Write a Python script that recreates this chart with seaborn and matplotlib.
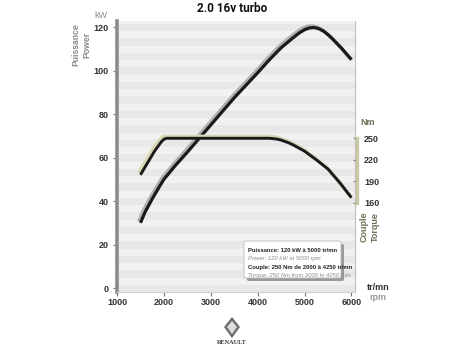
import numpy as np
import pandas as pd
import matplotlib
matplotlib.use("Agg")
import matplotlib.pyplot as plt
import matplotlib.transforms as mtransforms
from matplotlib.patches import Polygon, FancyBboxPatch
import seaborn as sns

# ---- data ----
power_rpm = [1500, 1600, 1750, 1900, 2000, 2250, 2500, 3000, 3500, 4000,
             4250, 4500, 4750, 4900, 5000, 5100, 5200, 5300, 5400, 5500,
             5600, 5800, 6000]
power_kw = [30, 35, 41, 46.5, 50, 56.5, 62.5, 75, 87.5, 99,
            105, 110.5, 115, 117.5, 118.8, 119.6, 119.8, 119.3, 118.2, 116.5,
            114.5, 110, 105]

torque_rpm = [1500, 1600, 1700, 1800, 1900, 1950, 2000, 2050, 3000, 4000,
              4250, 4400, 4500, 4650, 4750, 5000, 5250, 5500, 5750, 6000]
torque_nm = [199, 210, 221, 232, 241, 245.5, 248.5, 250, 250, 250,
             250, 249, 247.5, 244, 241, 232, 220, 207, 188, 167]

kw_ticks = [0, 20, 40, 60, 80, 100, 120]
nm_ticks = [160, 190, 220, 250]
rpm_ticks = [1000, 2000, 3000, 4000, 5000, 6000]

title = "2.0 16v turbo"
info_lines = [
    ("Puissance: 120 kW à 5000 tr/mn", "bold", "normal", "#222222"),
    ("Power: 120 kW at 5000 rpm", "normal", "italic", "#8a8a8a"),
    ("Couple: 250 Nm de 2000 à 4250 tr/mn", "bold", "normal", "#222222"),
    ("Torque: 250 Nm from 2000 to 4250 rpm", "normal", "italic", "#8a8a8a"),
]

dfp = pd.DataFrame({"rpm": power_rpm, "kw": power_kw})
dft = pd.DataFrame({"rpm": torque_rpm, "nm": torque_nm})

sns.set_style("white")
plt.rcParams["font.family"] = ["Liberation Sans", "DejaVu Sans"]

W, H = 465, 352
fig = plt.figure(figsize=(W / 100, H / 100), dpi=100)
fig.patch.set_facecolor("white")

def fx(px):
    return px / W

def fy(py):
    return 1 - py / H

ax = fig.add_axes([fx(117), fy(292), fx(355) - fx(117), fy(21) - fy(292)])
ax.set_xlim(1000, 6075)
ax.set_ylim(-1.8, 122.8)
ax.set_facecolor("#f1f1f1")

# striped background
step = 20 / 3
y = -1.8
i = 0
while y < 123:
    if i % 2 == 0:
        ax.axhspan(y, y + step / 2, color="#e8e8e8", lw=0, zorder=0)
    y += step / 2
    i += 1

ax2 = ax.twinx()
ax2.set_ylim(35.2, 413.9)

line_kw = dict(solid_joinstyle="round", solid_capstyle="butt")

# shadows + lines
off_p = mtransforms.offset_copy(ax.transData, fig=fig, x=-1.6, y=1.6, units="dots")
sns.lineplot(data=dfp, x="rpm", y="kw", ax=ax, color="#b0b0b0", lw=2.6, zorder=3, **line_kw)
ax.lines[-1].set_transform(off_p)
sns.lineplot(data=dfp, x="rpm", y="kw", ax=ax, color="#1a1a1a", lw=2.3, zorder=4, **line_kw)

off_t = mtransforms.offset_copy(ax2.transData, fig=fig, x=-1.6, y=1.8, units="dots")
sns.lineplot(data=dft, x="rpm", y="nm", ax=ax2, color="#d9d6b8", lw=2.8, zorder=3, **line_kw)
ax2.lines[-1].set_transform(off_t)
sns.lineplot(data=dft, x="rpm", y="nm", ax=ax2, color="#1a1a1a", lw=2.1, zorder=4, **line_kw)

# axes styling
for a in (ax, ax2):
    a.set_xlabel("")
    a.set_ylabel("")
    for s in a.spines.values():
        s.set_visible(False)

ax.spines["left"].set_visible(True)
ax.spines["left"].set_color("#8c8c8c")
ax.spines["left"].set_linewidth(2.6)
ax.spines["bottom"].set_visible(True)
ax.spines["bottom"].set_color("#cfcfcf")
ax.spines["bottom"].set_linewidth(0.8)
ax.spines["right"].set_visible(True)
ax.spines["right"].set_color("#bdbdbd")
ax.spines["right"].set_linewidth(0.8)

ax.set_yticks(kw_ticks)
ax.set_yticklabels([str(v) for v in kw_ticks])
ax.set_xticks(rpm_ticks)
ax.set_xticklabels([str(v) for v in rpm_ticks])
ax.tick_params(axis="y", left=True, length=3, width=0.8, color="#777777",
               labelsize=6.5, labelcolor="#333333", pad=3)
ax.tick_params(axis="x", bottom=True, length=3, width=0.8, color="#777777",
               labelsize=6.5, labelcolor="#333333", pad=1.5)
for lab in ax.get_xticklabels() + ax.get_yticklabels():
    lab.set_fontweight("bold")

ax2.spines["right"].set_visible(True)
ax2.spines["right"].set_bounds(160, 250)
ax2.spines["right"].set_position(("outward", 1.5))
ax2.spines["right"].set_color("#c9c8a6")
ax2.spines["right"].set_linewidth(2.4)
ax2.set_yticks(nm_ticks)
ax2.set_yticklabels([str(v) for v in nm_ticks])
ax2.tick_params(axis="y", right=True, direction="in", length=3, width=0.8,
                color="#8c8c70", labelsize=6.5, labelcolor="#333333", pad=5)
for lab in ax2.get_yticklabels():
    lab.set_fontweight("bold")

# texts
fig.text(fx(232), fy(9), title, ha="center", va="center", fontsize=8.5,
         fontweight="bold", family=["Liberation Sans Narrow", "Roboto", "DejaVu Sans"],
         color="#111111")
fig.text(fx(101), fy(15), "kW", ha="center", va="center", fontsize=6.5, color="#8a8a8a")
fig.text(fx(76), fy(45), "Puissance", ha="center", va="center", rotation=90,
         fontsize=6.2, color="#8a8a8a", fontweight="bold")
fig.text(fx(87), fy(45), "Power", ha="center", va="center", rotation=90,
         fontsize=6.2, color="#8a8a8a", fontweight="bold")
fig.text(fx(368), fy(123), "Nm", ha="center", va="center", fontsize=6.5,
         color="#6e6e55", fontweight="bold")
fig.text(fx(364), fy(227), "Couple", ha="center", va="center", rotation=90,
         fontsize=6.5, color="#6e6e55", fontweight="bold")
fig.text(fx(375), fy(227), "Torque", ha="center", va="center", rotation=90,
         fontsize=6.5, color="#6e6e55", fontweight="bold")
fig.text(fx(378), fy(287), "tr/mn", ha="center", va="center", fontsize=6.5,
         color="#333333", fontweight="bold")
fig.text(fx(378), fy(298), "rpm", ha="center", va="center", fontsize=6.5,
         color="#9a9a9a", fontweight="bold")

# info box
shadow = FancyBboxPatch((fx(247), fy(281)), fx(97), fy(244) - fy(281),
                        boxstyle="round,pad=0,rounding_size=0.004",
                        transform=fig.transFigure, facecolor="#9a9a9a",
                        edgecolor="none", zorder=5)
box = FancyBboxPatch((fx(244), fy(278)), fx(97), fy(241) - fy(278),
                     boxstyle="round,pad=0,rounding_size=0.004",
                     transform=fig.transFigure, facecolor="white",
                     edgecolor="#bbbbbb", lw=0.6, zorder=6)
fig.patches.extend([shadow, box])
for k, (txt, fw, fs, col) in enumerate(info_lines):
    fig.text(fx(248), fy(250 + 8.5 * k), txt, ha="left", va="center",
             fontsize=4.2, fontweight=fw, fontstyle=fs, color=col, zorder=7,
             family=["Liberation Sans Narrow", "Liberation Sans", "DejaVu Sans"])

# logo
outer = Polygon([(fx(232), fy(317)), (fx(240), fy(327)), (fx(232), fy(338)), (fx(224), fy(327))],
                closed=True, transform=fig.transFigure, facecolor="#6e6e6e", edgecolor="none")
inner = Polygon([(fx(232), fy(321)), (fx(237), fy(327)), (fx(232), fy(334)), (fx(227), fy(327))],
                closed=True, transform=fig.transFigure, facecolor="#dcdcdc", edgecolor="none")
fig.patches.extend([outer, inner])
fig.text(fx(232), fy(343), "RENAULT", ha="center", va="center", fontsize=4.5,
         fontweight="bold", family=["Liberation Serif", "DejaVu Serif"], color="#333333")

fig.savefig("out.png", dpi=100)
